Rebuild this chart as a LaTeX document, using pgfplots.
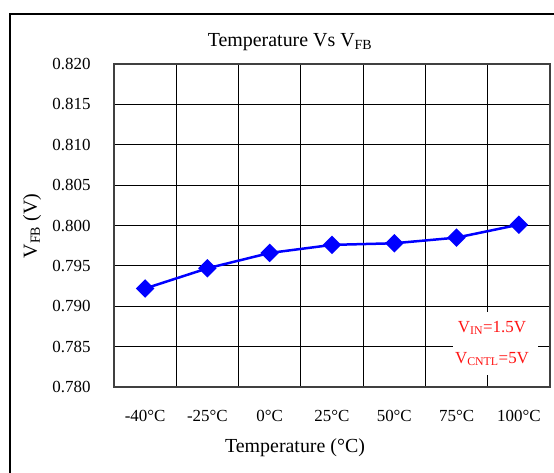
\documentclass[border=0pt]{standalone}
\usepackage{pgfplots}
\pgfplotsset{compat=1.18}
\usepackage{fontspec}
\setmainfont{Liberation Serif}
\begin{document}
\begin{tikzpicture}
\clip (0,0) rectangle (554bp,-473bp);
\fill[white] (0,0) rectangle (554bp,-473bp);
\draw[line width=2bp] (10bp,-600bp) -- (10bp,-14bp) -- (600bp,-14bp);
\begin{axis}[at={(114bp,-387bp)}, anchor=south west, scale only axis,
  width=436bp, height=323bp,
  xmin=-0.5, xmax=6.5, ymin=0.780, ymax=0.820,
  xtick={0,1,2,3,4,5,6},
  xticklabels={-40°C,-25°C,0°C,25°C,50°C,75°C,100°C},
  minor xtick={-0.5,0.5,1.5,2.5,3.5,4.5,5.5,6.5},
  xminorgrids=true,
  ytick={0.780,0.785,0.790,0.795,0.800,0.805,0.810,0.815,0.820},
  yticklabels={\textrm{0.780},\textrm{0.785},\textrm{0.790},\textrm{0.795},\textrm{0.800},\textrm{0.805},\textrm{0.810},\textrm{0.815},\textrm{0.820}},
  ymajorgrids=true,
  grid style={black, line width=1.2bp},
  minor grid style={black, line width=1.2bp},
  axis line style={line width=1.5bp, black!75},
  major tick style={draw=none}, minor tick style={draw=none},
  tick label style={font=\fontsize{17}{20}\selectfont},
  yticklabel style={xshift=-20bp},
  xticklabel style={yshift=-20bp},
]
\addplot[color={rgb,255:red,0;green,0;blue,255}, line width=2.5bp, mark=square*, mark size=5.3bp,
  mark options={rotate=45, solid, fill={rgb,255:red,0;green,0;blue,255}}]
  coordinates {(0,0.7922) (1,0.7947) (2,0.7966) (3,0.7976) (4,0.7978) (5,0.7985) (6,0.8001)};
\end{axis}
\fill[white] (453bp,-312bp) rectangle (538bp,-375bp);
\node[text={rgb,255:red,255;green,20;blue,20}, font=\fontsize{17}{20}\selectfont] at (492bp,-328bp) {V\textsubscript{IN}=1.5V};
\node[text={rgb,255:red,255;green,20;blue,20}, font=\fontsize{17}{20}\selectfont] at (492bp,-359bp) {V\textsubscript{CNTL}=5V};
\node[font=\fontsize{20}{24}\selectfont] at (290bp,-42bp) {Temperature Vs V\textsubscript{FB}};
\node[font=\fontsize{20}{24}\selectfont] at (295bp,-448bp) {Temperature (°C)};
\node[font=\fontsize{20}{24}\selectfont, rotate=90] at (32bp,-226bp) {V\textsubscript{FB} (V)};
\end{tikzpicture}
\end{document}
